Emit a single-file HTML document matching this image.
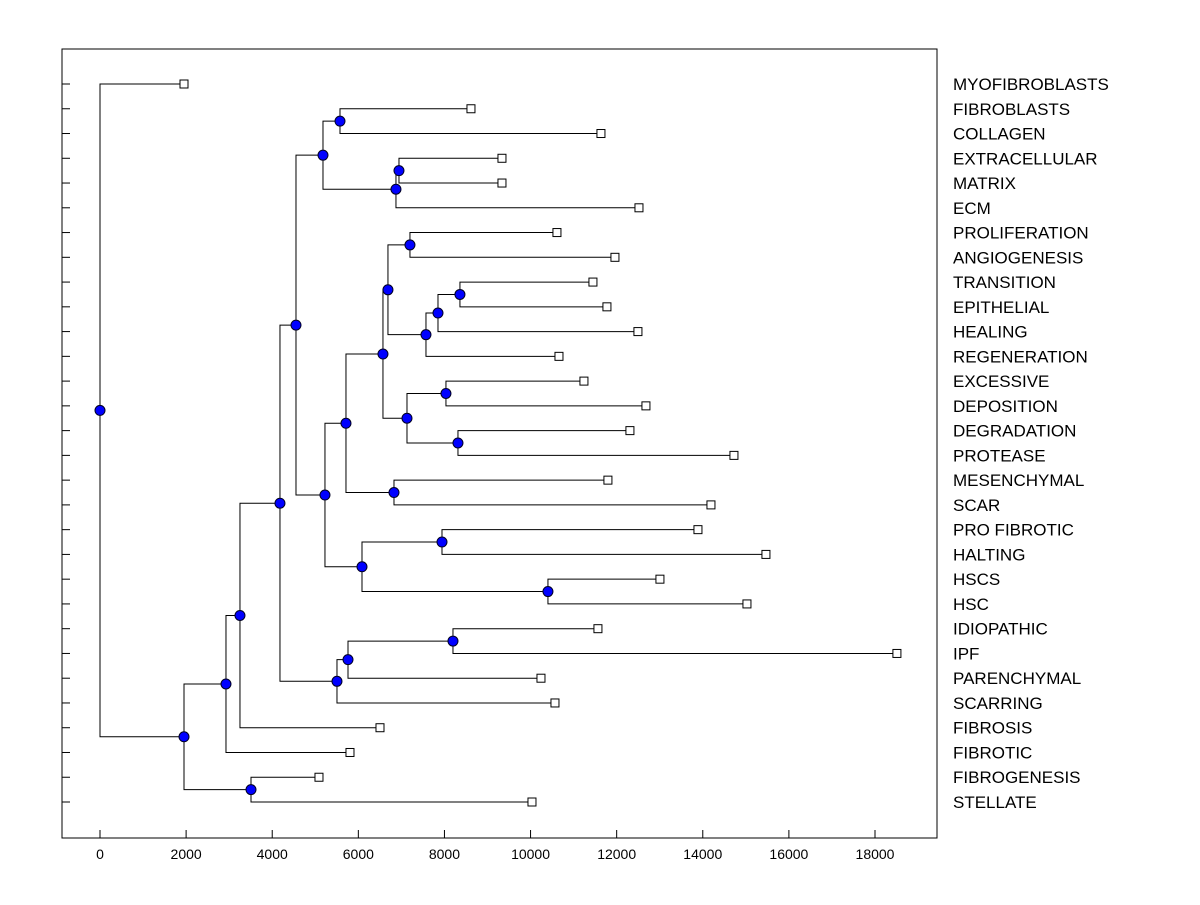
<!DOCTYPE html>
<html><head><meta charset="utf-8"><style>
body{margin:0;background:#fff;}
svg text{font-family:"Liberation Sans",Arial,sans-serif;}
</style></head><body>
<svg id="chart" width="1200" height="900">
<rect x="62" y="49" width="875" height="789" fill="none" stroke="#000" stroke-width="1"/>
<g id="g"></g>
</svg>
<script>
const leafLabels=["MYOFIBROBLASTS","FIBROBLASTS","COLLAGEN","EXTRACELLULAR","MATRIX","ECM","PROLIFERATION","ANGIOGENESIS","TRANSITION","EPITHELIAL","HEALING","REGENERATION","EXCESSIVE","DEPOSITION","DEGRADATION","PROTEASE","MESENCHYMAL","SCAR","PRO FIBROTIC","HALTING","HSCS","HSC","IDIOPATHIC","IPF","PARENCHYMAL","SCARRING","FIBROSIS","FIBROTIC","FIBROGENESIS","STELLATE"];
const leafValues=[1951,8616,11635,9336,9336,12518,10613,11960,11449,11774,12494,10660,11240,12680,12308,14724,11797,14190,13888,15467,13005,15026,11565,18509,10242,10567,6503,5806,5086,10033];
const mergeChildren=[["L1","L2"],["L3","L4"],["N1","L5"],["N0","N2"],["L6","L7"],["L8","L9"],["N5","L10"],["N6","L11"],["N4","N7"],["L12","L13"],["L14","L15"],["N9","N10"],["N8","N11"],["L16","L17"],["N12","N13"],["L18","L19"],["L20","L21"],["N15","N16"],["N14","N17"],["N3","N18"],["L22","L23"],["N20","L24"],["N21","L25"],["N19","N22"],["N23","L26"],["N24","L27"],["L28","L29"],["N25","N26"],["L0","N27"]];
const mergeValues=[5574,6944,6874,5179,7199,8360,7850,7571,6688,8035,8314,7130,6572,6828,5713,7943,10404,6085,5225,4552,8198,5760,5504,4180,3251,2926,3507,1951,0];
const xTicks=[0,2000,4000,6000,8000,10000,12000,14000,16000,18000];

const X=v=>100+v*(775/18000);
const Y=i=>84+i*(718/29);
const NS="http://www.w3.org/2000/svg";
const g=document.getElementById('g');
function mk(t,a){const e=document.createElementNS(NS,t);for(const k in a)e.setAttribute(k,a[k]);g.appendChild(e);return e;}
leafLabels.forEach((l,i)=>{
 const t=mk('line',{x1:62,x2:70,y1:Y(i),y2:Y(i),stroke:'#000'});
 
 
 const tx=mk('text',{x:953,y:Y(i)+6,'font-size':17});
 tx.textContent=l;
 
 
});
xTicks.forEach(v=>{
 const t=mk('line',{x1:X(v),x2:X(v),y1:838,y2:830,stroke:'#000'});
 
 
 const tx=mk('text',{x:X(v),y:859,'font-size':14,'text-anchor':'middle'});
 tx.textContent=v;
 
 
});
const pos={};
leafValues.forEach((v,i)=>{pos['L'+i]={x:X(v),y:Y(i)};});
const nodes=[];
mergeChildren.forEach((c,i)=>{
 const a=pos[c[0]],b=pos[c[1]],x=X(mergeValues[i]);
 const y=(a.y+b.y)/2;pos['N'+i]={x,y};
 const p=mk('path',{d:`M${a.x},${a.y}H${x}V${b.y}H${b.x}`,fill:'none',stroke:'#000','stroke-width':1});
 
 
 nodes.push([x,y]);
});
leafValues.forEach((v,i)=>{
 const r=mk('rect',{x:X(v)-4,y:Y(i)-4,width:8,height:8,fill:'#fff',stroke:'#000'});
 
 
});
nodes.forEach(n=>{
 const c=mk('circle',{cx:n[0],cy:n[1],r:5,fill:'#0000ff',stroke:'#000022'});
 
 
});
</script>
</body></html>
